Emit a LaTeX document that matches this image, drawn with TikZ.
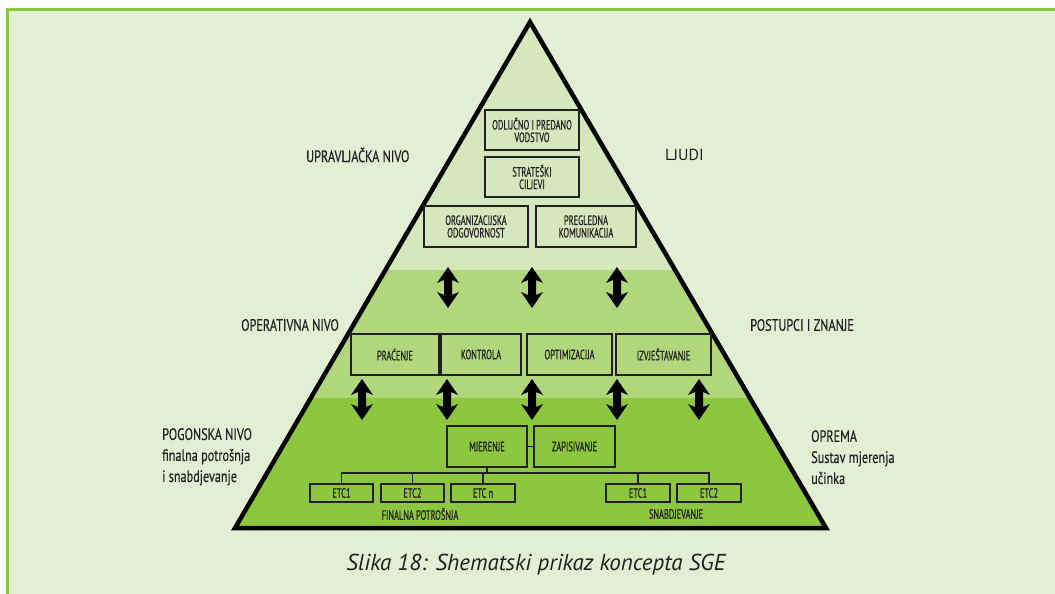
\documentclass[tikz,border=0pt]{standalone}
\usepackage{fontspec}
\setmainfont{PT Sans}
\newfontfamily\boxfam[FakeStretch=0.62,FakeBold=0.6]{PT Sans}
\newfontfamily\labfam[FakeStretch=0.74,FakeBold=0.3]{PT Sans}
\newfontfamily\capfam{PT Sans}
\definecolor{bgc}{HTML}{E2EFD5}
\definecolor{frame}{HTML}{8DC63F}
\definecolor{bandA}{HTML}{D5E8BD}
\definecolor{bandB}{HTML}{B0D77B}
\definecolor{bandC}{HTML}{8DC63F}
\definecolor{ink}{HTML}{231F20}
\tikzset{
  box/.style={draw=ink, line width=1.3pt, inner sep=0pt, align=center, text=ink,
    font=\boxfam\fontsize{13.5}{12.5}\selectfont},
  sidelab/.style={anchor=west, align=left, inner sep=0pt, text=ink,
    font=\labfam\fontsize{16.5}{21}\selectfont},
  smalllab/.style={inner sep=0pt, text=ink, font=\boxfam\fontsize{13.5}{12.5}\selectfont},
  tree/.style={draw=ink, line width=1.3pt},
  dblarrow/.style={fill=black}
}
\newcommand{\dArrow}[3]{% x, ytop, ybottom (y downward)
  \fill[dblarrow] (#1,#2) -- (#1+11,#2+16) -- (#1+4,#2+13) -- (#1+4,#3-13) -- (#1+11,#3-16)
    -- (#1,#3) -- (#1-11,#3-16) -- (#1-4,#3-13) -- (#1-4,#2+13) -- (#1-11,#2+16) -- cycle;}
\begin{document}
\begin{tikzpicture}[x=1pt,y=-1pt]
\useasboundingbox (0,0) rectangle (1055,594);
\fill[white] (0,0) rectangle (1055,594);
\fill[bgc] (9,11) rectangle (1055,594);
\fill[frame] (6,8) rectangle (1055,11);
\fill[frame] (6,8) rectangle (9,594);
% pyramid bands
\begin{scope}
  \clip (530,22) -- (235,528) -- (826,528) -- cycle;
  \fill[bandA] (200,0) rectangle (860,270);
  \fill[bandB] (200,270) rectangle (860,398);
  \fill[bandC] (200,398) rectangle (860,540);
\end{scope}
\draw[line width=4.5pt, line join=miter, black] (530,22) -- (235,528) -- (826,528) -- cycle;
% top level boxes
\node[box, minimum width=94pt, minimum height=40pt] (vod) at (532,130) {ODLUČNO I PREDANO\\VODSTVO};
\node[box, minimum width=94pt, minimum height=40pt] (cilj) at (532,177) {STRATEŠKI\\CILJEVI};
\node[box, minimum width=104pt, minimum height=41pt] (org) at (476,226.5) {ORGANIZACIJSKA\\ODGOVORNOST};
\node[box, minimum width=100pt, minimum height=41pt] (preg) at (586,226.5) {PREGLEDNA\\KOMUNIKACIJA};
% middle level boxes
\node[box, minimum width=88pt, minimum height=41pt] (prac) at (395,354.5) {PRAĆENJE};
\node[box, minimum width=80pt, minimum height=41pt] (kontr) at (481,354.5) {KONTROLA};
\node[box, minimum width=85pt, minimum height=41pt] (optim) at (569.5,354.5) {OPTIMIZACIJA};
\node[box, minimum width=95pt, minimum height=41pt] (izvj) at (663.5,354.5) {IZVJEŠTAVANJE};
% bottom level boxes
\node[box, minimum width=80pt, minimum height=41pt] (mjer) at (487,446.5) {MJERENJE};
\node[box, minimum width=81pt, minimum height=41pt] (zap) at (574.5,446.5) {ZAPISIVANJE};
\node[box, minimum width=63pt, minimum height=18pt] (e1) at (341.5,493) {ETC1};
\node[box, minimum width=63pt, minimum height=18pt] (e2) at (412.5,493) {ETC2};
\node[box, minimum width=64pt, minimum height=18pt] (en) at (483,493) {ETC n};
\node[box, minimum width=64pt, minimum height=18pt] (s1) at (638,493) {ETC1};
\node[box, minimum width=64pt, minimum height=18pt] (s2) at (709,493) {ETC2};
\draw[tree] (mjer) -- (zap);
\coordinate (bus) at (0,473);
\draw[tree] (mjer.south) -- (mjer.south |- bus);
\foreach \b in {e1,e2,en,s1,s2}{\draw[tree] (mjer.south |- bus) -| (\b.north);}
\node[smalllab] (fp) at (420,514) {FINALNA POTROŠNJA};
\node[smalllab] (sn) at (676,514) {SNABDJEVANJE};
% arrows
\dArrow{448}{267}{308}
\dArrow{532}{267}{308}
\dArrow{617}{267}{308}
\dArrow{362}{379}{420}
\dArrow{447}{379}{420}
\dArrow{532}{379}{420}
\dArrow{617}{379}{420}
\dArrow{699}{379}{420}
% side labels
\node[sidelab] (upr) at (306,155) {UPRAVLJAČKA NIVO};
\node[sidelab, font=\capfam\fontsize{16}{20}\selectfont] (lju) at (665,155) {LJUDI};
\node[sidelab] (ope) at (241,325) {OPERATIVNA NIVO};
\node[sidelab] (pos) at (750,325) {POSTUPCI I ZNANJE};
\node[sidelab, anchor=north west] (pog) at (162,428) {POGONSKA NIVO\\finalna potrošnja\\i snabdjevanje};
\node[sidelab, anchor=north west] (opr) at (811,430) {OPREMA\\Sustav mjerenja\\učinka};
% caption
\node[inner sep=0pt, text=ink, font=\capfam\itshape\fontsize{23}{26}\selectfont, anchor=base] (cap) at (536,570) {Slika 18: Shematski prikaz koncepta SGE};
\end{tikzpicture}
\end{document}
